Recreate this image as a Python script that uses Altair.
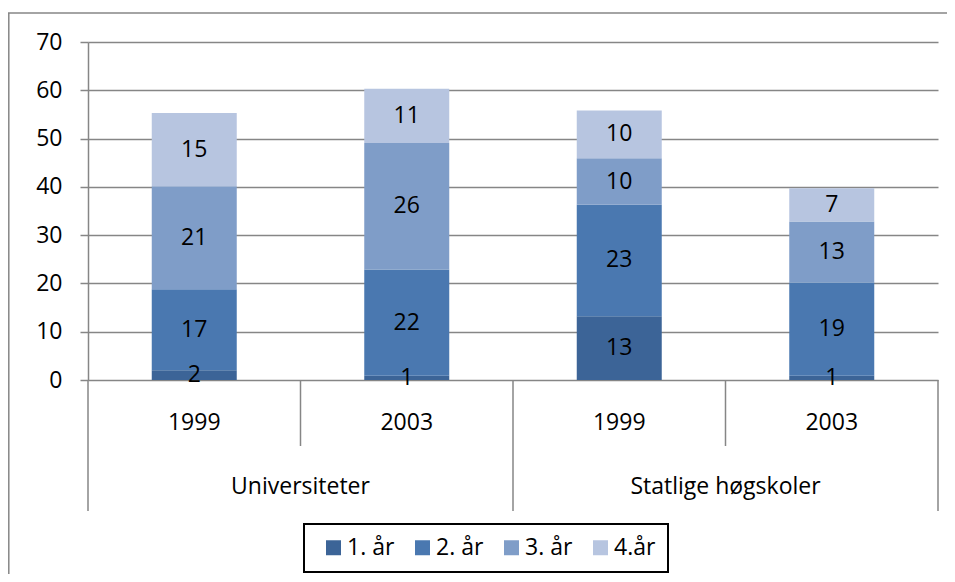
import altair as alt
import pandas as pd

# ---- data ----
institutions = ["Universiteter", "Universiteter", "Statlige høgskoler", "Statlige høgskoler"]
years = ["1999", "2003", "1999", "2003"]
series = ["1. år", "2. år", "3. år", "4.år"]
v_ar1 = [2.0, 0.9, 13.2, 0.9]
v_ar2 = [16.8, 22.0, 23.1, 19.3]
v_ar3 = [21.3, 26.2, 9.6, 12.6]
v_ar4 = [15.2, 11.2, 9.9, 6.9]
colors = ["#3C6497", "#4A78B0", "#7F9DC8", "#B7C5E0"]
y_ticks = [0, 10, 20, 30, 40, 50, 60, 70]

W, H = 850, 338
PAD_L, PAD_T, PAD_R = 80, 34, 9
TOTAL_H = 566
FONT = "Open Sans"
FS = 23
GRAY = "#868686"

slots = [f"{i}|{y}" for i, y in zip(institutions, years)]
rows = []
for s_idx, (name, vals) in enumerate(zip(series, [v_ar1, v_ar2, v_ar3, v_ar4])):
    for slot, v in zip(slots, vals):
        rows.append({"slot": slot, "series": name, "order": s_idx, "value": v})
df = pd.DataFrame(rows)

slot_df = pd.DataFrame({"slot": slots, "year": years, "inst": institutions})
group_df = slot_df[slot_df["year"] == "2003"]
start_df = slot_df[slot_df["year"] == "1999"]
last_df = slot_df.iloc[[-1]]

xscale = alt.Scale(domain=slots, paddingInner=0, paddingOuter=0)
yscale = alt.Scale(domain=[0, 70], nice=False)

base = alt.Chart(df).transform_stack(
    stack="value", groupby=["slot"], as_=["y0", "y1"],
    sort=[alt.SortField("order", order="ascending")]
)

bars = base.mark_bar(width=alt.RelativeBandSize(0.4)).encode(
    x=alt.X("slot:N", scale=xscale, axis=None, sort=slots),
    y=alt.Y("y0:Q", scale=yscale, axis=alt.Axis(
        values=y_ticks, title=None, grid=True, gridColor=GRAY, gridWidth=1.5,
        domainColor=GRAY, domainWidth=1.5, tickColor=GRAY, tickSize=8, tickWidth=1.5,
        labelFontSize=FS, labelFont=FONT, labelColor="black", labelPadding=18)),
    y2="y1:Q",
    color=alt.Color("series:N", scale=alt.Scale(domain=series, range=colors),
                    legend=alt.Legend(
                        title=None, orient="none", legendX=216, legendY=482,
                        direction="horizontal", symbolType="square", symbolSize=225,
                        symbolStrokeWidth=0, labelFontSize=FS, labelFont=FONT,
                        labelColor="black", labelOffset=2, columnPadding=10,
                        padding=12, symbolOffset=6, strokeColor="black")),
    order=alt.Order("order:Q"),
)

labels = base.transform_calculate(mid="(datum.y0 + datum.y1) / 2").mark_text(
    font=FONT, fontSize=FS, color="black", baseline="middle"
).encode(
    x=alt.X("slot:N", scale=xscale, sort=slots),
    y=alt.Y("mid:Q", scale=yscale),
    text=alt.Text("value:Q", format=".0f"),
)

year_text = alt.Chart(slot_df).mark_text(
    font=FONT, fontSize=FS, color="black", baseline="middle"
).encode(
    x=alt.X("slot:N", scale=xscale, sort=slots),
    y=alt.value(H + 43),
    text="year:N",
)

group_text = alt.Chart(group_df).mark_text(
    font=FONT, fontSize=FS, color="black", baseline="middle"
).encode(
    x=alt.X("slot:N", scale=xscale, sort=slots, bandPosition=0),
    y=alt.value(H + 107),
    text="inst:N",
)

inner_sep = alt.Chart(group_df).mark_rule(color=GRAY, strokeWidth=1.5).encode(
    x=alt.X("slot:N", scale=xscale, sort=slots, bandPosition=0),
    y=alt.value(H), y2=alt.value(H + 66),
)
outer_sep = alt.Chart(start_df).mark_rule(color=GRAY, strokeWidth=1.5).encode(
    x=alt.X("slot:N", scale=xscale, sort=slots, bandPosition=0),
    y=alt.value(H), y2=alt.value(H + 131),
)
end_sep = alt.Chart(last_df).mark_rule(color=GRAY, strokeWidth=1.5).encode(
    x=alt.X("slot:N", scale=xscale, sort=slots, bandPosition=1),
    y=alt.value(H), y2=alt.value(H + 131),
)

frame_left = alt.Chart(slot_df.iloc[[0]]).mark_rule(color=GRAY, strokeWidth=1.5).encode(
    x=alt.value(-PAD_L + 0.8), y=alt.value(-29), y2=alt.value(TOTAL_H - PAD_T),
)
frame_top = alt.Chart(slot_df.iloc[[0]]).mark_rule(color=GRAY, strokeWidth=1.5).encode(
    x=alt.value(-PAD_L), x2=alt.value(W + PAD_R), y=alt.value(-29),
)

chart = alt.layer(
    bars, labels, year_text, group_text, inner_sep, outer_sep, end_sep, frame_left, frame_top
).properties(
    width=W, height=H,
    autosize=alt.AutoSizeParams(type="none"),
    padding={"left": PAD_L, "top": PAD_T, "right": PAD_R, "bottom": TOTAL_H - PAD_T - H},
).configure(font=FONT).configure_view(strokeWidth=0).configure_legend(strokeWidth=2)

chart.save("out.html", embed_options={"renderer": "svg", "actions": False})
